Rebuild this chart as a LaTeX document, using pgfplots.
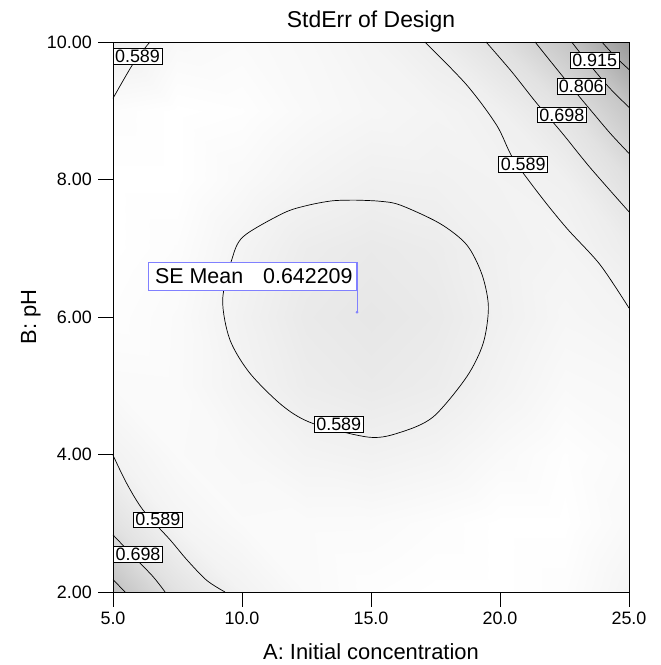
\documentclass[border=0pt]{standalone}
\usepackage{pgfplots}
\pgfplotsset{compat=1.18}
\usepackage{fontspec}
\setmainfont{Liberation Sans}
\definecolor{annot}{RGB}{128,128,255}

\begin{document}
\begin{tikzpicture}
\begin{axis}[
 set layers=standard,
 scale only axis, width=516bp, height=550bp,
 xmin=5, xmax=25, ymin=2, ymax=10,
 xtick={5,10,15,20,25}, xticklabels={5.0,10.0,15.0,20.0,25.0},
 ytick={2,4,6,8,10}, yticklabels={2.00,4.00,6.00,8.00,10.00},
 tick align=outside, tick pos=left,
 major tick length=0pt,
 axis line style={line width=1bp},
 ticklabel style={font=\fontsize{18}{20}\selectfont, inner sep=0pt},
 xticklabel style={anchor=north, yshift=-20bp},
 yticklabel style={anchor=east, xshift=-21bp},
 label style={font=\fontsize{22}{24}\selectfont},
 title={StdErr of Design},
 title style={font=\fontsize{23}{26}\selectfont, at={(axis description cs:0.5,1.0164)}, anchor=base},
 xlabel={A: Initial concentration}, ylabel={B: pH},
 xlabel style={at={(axis description cs:0.5,-0.1236)}, anchor=base},
 ylabel style={at={(axis description cs:-0.149,0.5)}, anchor=base},
 colormap={se}{gray(0cm)=(1); gray(1cm)=(0.6)},
 point meta min=0.5, point meta max=1.1,
 clip=false,
]
% background shading: estimated standard error on a 9x9 grid
\addplot[surf, shader=interp, on layer=axis background, mesh/cols=9, mesh/rows=9, point meta=\thisrow{z}] table {
x y z
5 2 0.868
7.5 2 0.671
10 2 0.5745
12.5 2 0.5314
15 2 0.510
17.5 2 0.4958
20 2 0.4908
22.5 2 0.5138
25 2 0.56
5 3 0.671
7.5 3 0.563
10 3 0.5312
12.5 3 0.529
15 3 0.528
17.5 3 0.5156
20 3 0.4961
22.5 3 0.4904
25 3 0.5364
5 4 0.5745
7.5 4 0.5312
10 4 0.5435
12.5 4 0.5686
15 4 0.5793
17.5 4 0.5656
20 4 0.534
22.5 4 0.5078
25 4 0.527
5 5 0.5314
7.5 5 0.529
10 5 0.5686
12.5 5 0.6086
15 5 0.6247
17.5 5 0.609
20 5 0.5701
22.5 5 0.5337
25 5 0.542
5 6 0.510
7.5 6 0.528
10 6 0.5793
12.5 6 0.6247
15 6 0.642
17.5 6 0.6256
20 6 0.5865
22.5 6 0.5525
25 6 0.568
5 7 0.4958
7.5 7 0.5156
10 7 0.5656
12.5 7 0.609
15 7 0.6256
17.5 7 0.6123
20 7 0.5821
22.5 7 0.5653
25 7 0.6084
5 8 0.4908
7.5 8 0.4961
10 8 0.534
12.5 8 0.5656
15 8 0.5865
17.5 8 0.5821
20 8 0.5725
22.5 8 0.5899
25 8 0.6833
5 9 0.5138
7.5 9 0.4904
10 9 0.5078
12.5 9 0.5337
15 9 0.5525
17.5 9 0.5653
20 9 0.5899
22.5 9 0.6609
25 9 0.8294
5 10 0.600
7.5 10 0.5364
10 10 0.527
12.5 10 0.542
15 10 0.568
17.5 10 0.6084
20 10 0.6833
22.5 10 0.8294
25 10 1.100
};

% outside tick marks (15bp long: 0.218 y-units, 0.581 x-units)
\draw[black, line width=0.8bp] (axis cs:5,2) -- (axis cs:5,1.782);
\draw[black, line width=0.8bp] (axis cs:10,2) -- (axis cs:10,1.782);
\draw[black, line width=0.8bp] (axis cs:15,2) -- (axis cs:15,1.782);
\draw[black, line width=0.8bp] (axis cs:20,2) -- (axis cs:20,1.782);
\draw[black, line width=0.8bp] (axis cs:25,2) -- (axis cs:25,1.782);
\draw[black, line width=0.8bp] (axis cs:5,2) -- (axis cs:4.419,2);
\draw[black, line width=0.8bp] (axis cs:5,4) -- (axis cs:4.419,4);
\draw[black, line width=0.8bp] (axis cs:5,6) -- (axis cs:4.419,6);
\draw[black, line width=0.8bp] (axis cs:5,8) -- (axis cs:4.419,8);
\draw[black, line width=0.8bp] (axis cs:5,10) -- (axis cs:4.419,10);

% contour lines
\pgfplotsset{cline/.style={black, line width=0.7bp, smooth, no markers}}
\addplot[cline] coordinates {(14.4,7.70) (15.3,7.685) (16.12,7.63) (17.67,7.36) (18.71,7.05) (19.30,6.62) (19.55,6.15) (19.35,5.62) (18.71,5.13) (17.42,4.55) (16.2,4.33) (14.96,4.25) (12.76,4.45) (11.60,4.70) (10.31,5.18) (9.53,5.67) (9.25,6.25) (9.60,6.83) (10.05,7.17) (11.60,7.51) (12.5,7.62) (13.5,7.69) (14.4,7.70)};
\addplot[cline] coordinates {(17.09,10) (18.71,9.375) (19.87,8.79) (20.50,8.31) (21.55,7.77) (22.59,7.29) (23.88,6.76) (25,6.13)};
\addplot[cline] coordinates {(19.46,10) (20.45,9.57) (21.4,9.12) (22.4,8.68) (23.5,8.17) (25,7.53)};
\addplot[cline] coordinates {(21.36,10) (22.0,9.70) (22.8,9.33) (23.6,8.97) (24.3,8.66) (25,8.38)};
\addplot[cline] coordinates {(22.78,10) (23.3,9.75) (24.2,9.35) (25,9.05)};
\addplot[cline] coordinates {(23.95,10) (24.46,9.79) (25,9.60)};
\addplot[cline] coordinates {(5,3.99) (5.53,3.58) (6.17,3.19) (7.21,2.76) (7.86,2.47) (8.63,2.17) (9.34,2)};
\addplot[cline] coordinates {(5,2.83) (5.92,2.47) (6.56,2.22) (7.02,2)};
\addplot[cline] coordinates {(5,2.18) (5.47,2)};
\addplot[cline] coordinates {(5,9.18) (5.79,9.69) (6.43,10)};

% contour labels
\tikzset{clab/.style={draw=black, line width=0.6bp, fill=white, inner xsep=2bp, inner ysep=1.5bp, font=\fontsize{18}{20}\selectfont}}
\node[clab] at (axis cs:23.67,9.73) {0.915};
\node[clab] at (axis cs:23.15,9.36) {0.806};
\node[clab] at (axis cs:22.40,8.94) {0.698};
\node[clab] at (axis cs:20.90,8.22) {0.589};
\node[clab] at (axis cs:13.75,4.44) {0.589};
\node[clab] at (axis cs:6.74,3.05) {0.589};
\node[clab] at (axis cs:5.97,2.55) {0.698};
\node[clab] at (axis cs:5.95,9.79) {0.589};

% SE Mean annotation
\draw[annot, line width=1bp] (axis cs:14.46,6.07) -- (axis cs:14.46,6.80);
\addplot[annot, only marks, mark=*, mark size=1.2bp] coordinates {(14.46,6.07)};
\node[draw=annot, line width=1bp, fill=white, anchor=north east, inner xsep=4bp, minimum height=28bp, font=\fontsize{21.5}{24}\selectfont] at (axis cs:14.46,6.80) {\hspace{3bp}SE Mean\hspace{20bp}0.642209\hspace{4bp}};
\end{axis}
\pgfresetboundingbox
\useasboundingbox (-113bp,-73bp) rectangle (548bp,592bp);
\end{tikzpicture}
\end{document}
